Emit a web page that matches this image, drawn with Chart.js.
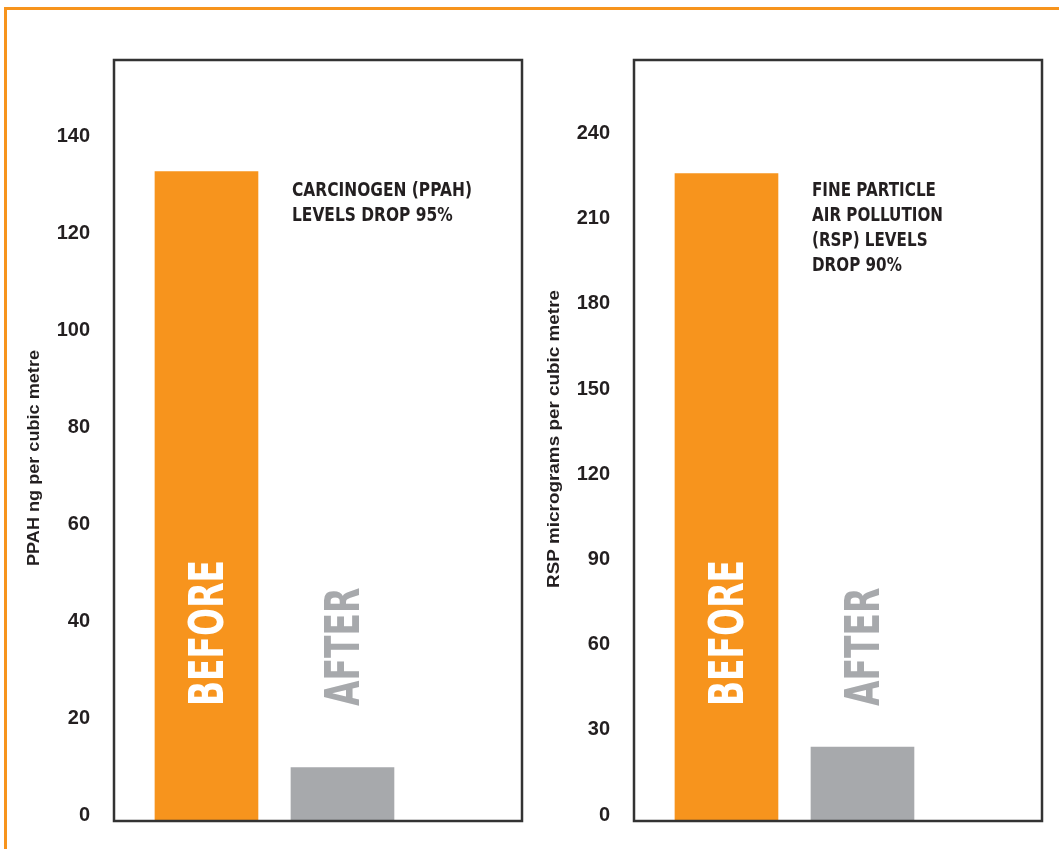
<!DOCTYPE html>
<html>
<head>
<meta charset="utf-8">
<script src="https://cdn.jsdelivr.net/npm/chart.js@4.4.1/dist/chart.umd.min.js"></script>
<style>
  body { margin: 0; background: #fff; overflow: hidden; }
  #frame { position: absolute; left: 4px; top: 7px; width: 1100px; height: 900px;
           border-top: 3px solid #f7941d; border-left: 3px solid #f7941d; }
  canvas { position: absolute; top: 0; }
  #ppahChart { left: 0; }
  #rspChart { left: 530px; }
</style>
</head>
<body>
<div id="frame"></div>
<canvas id="ppahChart" width="530" height="849"></canvas>
<canvas id="rspChart" width="529" height="849"></canvas>
<script>
var categories = ['BEFORE', 'AFTER'];
var positions = [1, 2];
var ppahValues = [134, 11];
var rspValues = [228, 26];
var ppahTicks = [0, 20, 40, 60, 80, 100, 120, 140];
var rspTicks = [0, 30, 60, 90, 120, 150, 180, 210, 240];
var ppahTitle = 'PPAH ng per cubic metre';
var rspTitle = 'RSP micrograms per cubic metre';
var ppahNote = ['CARCINOGEN (PPAH)', 'LEVELS DROP 95%'];
var rspNote = ['FINE PARTICLE', 'AIR POLLUTION', '(RSP) LEVELS', 'DROP 90%'];

var ORANGE = '#f7941d', GREY = '#a7a9ac', INK = '#231f20';
var FONT = '"Liberation Sans", Arial, sans-serif';
var HEAVY = '"DejaVu Sans", "Liberation Sans", sans-serif';

// horizontal squeeze so a text run spans a given width (condensed look)
function fitScale(ctx, text, font, width) {
  ctx.font = font;
  return width / ctx.measureText(text).width;
}

var panelPlugin = {
  id: 'panel',
  afterDatasetsDraw: function (chart) {
    var o = chart.options.plugins.panel;
    var ctx = chart.ctx, a = chart.chartArea;
    ctx.save();

    // box round the plot area
    ctx.strokeStyle = '#333';
    ctx.lineWidth = 2.5;
    ctx.strokeRect(a.left, a.top, a.right - a.left, a.bottom - a.top);

    // BEFORE / AFTER written up the bars
    var bigFont = 'bold 48px ' + HEAVY;
    var k = fitScale(ctx, categories[0], bigFont, 146);
    chart.getDatasetMeta(0).data.forEach(function (bar, i) {
      ctx.save();
      ctx.translate(bar.x - 1, a.bottom - 115);
      ctx.rotate(-Math.PI / 2);
      ctx.scale(k, 1);
      ctx.font = bigFont;
      ctx.fillStyle = i === 0 ? '#fff' : GREY;
      ctx.textAlign = 'left';
      ctx.textBaseline = 'alphabetic';
      ctx.fillText(categories[i], 0, 17.5);
      ctx.restore();
    });

    // note block
    var noteFont = 'bold 19px ' + HEAVY;
    var kn = fitScale(ctx, o.note[o.fitLine], noteFont, o.fitWidth);
    ctx.fillStyle = INK;
    ctx.textAlign = 'left';
    ctx.textBaseline = 'alphabetic';
    o.note.forEach(function (line, i) {
      ctx.save();
      ctx.translate(a.left + 178, a.top + 136 + i * 25);
      ctx.scale(kn, 1);
      ctx.font = noteFont;
      ctx.fillText(line, 0, 0);
      ctx.restore();
    });

    // y axis title
    var titleFont = 'bold 16px ' + FONT;
    var kt = fitScale(ctx, o.title, titleFont, o.titleWidth);
    ctx.save();
    ctx.translate(a.left - 79, a.top + o.titleMid);
    ctx.rotate(-Math.PI / 2);
    ctx.scale(kt, 1);
    ctx.font = titleFont;
    ctx.textAlign = 'center';
    ctx.textBaseline = 'middle';
    ctx.fillText(o.title, 0, 0);
    ctx.restore();

    ctx.restore();
  }
};

function makeChart(id, values, ticks, max, axisWidth, padRight, panel) {
  var points = positions.map(function (x, i) { return { x: x, y: values[i] }; });
  return new Chart(document.getElementById(id), {
    type: 'bar',
    data: {
      datasets: [{
        data: points,
        backgroundColor: [ORANGE, GREY],
        borderWidth: 0,
        barThickness: 103
      }]
    },
    options: {
      responsive: false,
      animation: false,
      layout: { padding: { top: 60, bottom: 28, left: 0, right: padRight } },
      scales: {
        x: { type: 'linear', min: 0.32, max: 3.32, offset: false, display: false },
        y: {
          min: 0,
          max: max,
          grid: { display: false, drawTicks: false },
          border: { display: false },
          afterBuildTicks: function (scale) {
            scale.ticks = ticks.map(function (v) { return { value: v }; });
          },
          afterFit: function (scale) {
            scale.width = axisWidth;
            scale.paddingTop = 0;
            scale.paddingBottom = 0;
          },
          ticks: {
            padding: 24,
            labelOffset: -6,
            color: INK,
            font: { family: FONT, size: 20, weight: 'bold' }
          }
        }
      },
      plugins: {
        legend: { display: false },
        tooltip: { enabled: false },
        panel: panel
      }
    },
    plugins: [panelPlugin]
  });
}

makeChart('ppahChart', ppahValues, ppahTicks, 157, 114, 8,
  { note: ppahNote, fitLine: 0, fitWidth: 180, title: ppahTitle, titleWidth: 216, titleMid: 398 });
makeChart('rspChart', rspValues, rspTicks, 268, 104, 17,
  { note: rspNote, fitLine: 1, fitWidth: 131, title: rspTitle, titleWidth: 298, titleMid: 379 });
</script>
</body>
</html>
